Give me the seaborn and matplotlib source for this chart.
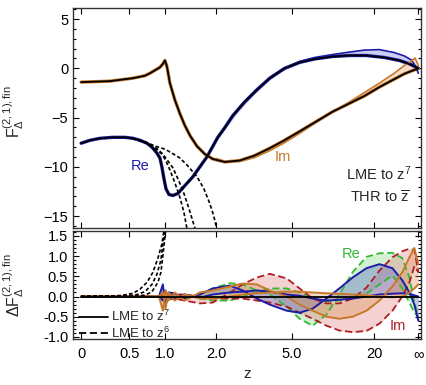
import matplotlib.pyplot as plt
import matplotlib.ticker as mticker
from matplotlib.lines import Line2D
import seaborn as sns
import numpy as np

# ---- data (z values, inf = right end) ----
inf = np.inf

# top panel: LME to z^7 curves
z_im = [0, 0.28, 0.545, 0.70, 0.769, 0.841, 0.915, 0.96, 0.992, 1.024, 1.072, 1.155, 1.243,
        1.333, 1.428, 1.57, 1.738, 1.922, 2.23, 2.67, 3.18, 3.81, 4.46, 5.52, 8.8, 15.8,
        23, 39, 70, inf]
im_lme = [-1.4, -1.3, -1.0, -0.75, -0.5, -0.2, 0.1, 0.45, 0.8, 0.2, -1.5, -3.2, -4.6,
          -5.8, -6.8, -7.9, -8.7, -9.2, -9.5, -9.35, -8.85, -8.1, -7.4, -6.4, -4.4, -2.8,
          -1.9, -1.1, -0.55, 0.0]

z_re = [0, 0.082, 0.18, 0.31, 0.449, 0.545, 0.634, 0.728, 0.798, 0.87, 0.915, 0.945, 0.977,
        1.008, 1.056, 1.122, 1.207, 1.333, 1.487, 1.63, 1.783, 2.045, 2.23, 2.452, 2.828,
        3.26, 3.81, 4.57, 5.52, 6.75, 8.79, 11.7, 16.5, 26.8, 50, 110, inf]
re_lme = [-7.6, -7.3, -7.1, -7.0, -7.0, -7.1, -7.3, -7.6, -8.0, -8.6, -9.1, -10.0, -11.2,
          -12.2, -12.8, -12.9, -12.7, -11.9, -11.0, -10.0, -9.0, -7.0, -6.0, -4.8, -3.4,
          -2.2, -1.0, 0.0, 0.6, 0.95, 1.2, 1.3, 1.3, 1.1, 0.8, 0.45, 0.0]

# top panel: THR bands
z_thr = [2.0, 2.23, 2.67, 3.18, 3.81, 4.46, 5.52, 6.75, 8.8, 11.7, 15.8, 23, 39, 70, 140, 300, inf]
re_thr_a = [-7.2, -6.0, -3.9, -2.3, -0.95, -0.05, 0.7, 1.1, 1.4, 1.65, 1.85, 1.9, 1.6, 1.25, 0.85, 0.3, -0.5]
re_thr_b = [-7.4, -6.2, -4.2, -2.6, -1.15, -0.2, 0.5, 0.9, 1.15, 1.25, 1.25, 1.15, 0.9, 0.65, 0.4, 0.15, -0.1]
im_thr_a = [-9.15, -9.45, -9.45, -9.05, -8.35, -7.65, -6.6, -5.6, -4.45, -3.4, -2.45, -1.5, -0.5, 0.3, 0.7, 1.05, 0.3]
im_thr_b = [-9.1, -9.5, -9.35, -8.85, -8.1, -7.4, -6.4, -5.5, -4.4, -3.5, -2.8, -1.95, -1.15, -0.6, -0.35, -0.15, 0.0]

# top panel: lower-order LME (diverging, dashed)
z_d1 = [0.545, 0.728, 0.798, 0.87, 0.945, 1.008, 1.072, 1.155, 1.243, 1.315, 1.37, 1.409]
d1 = [-7.1, -7.6, -7.9, -8.3, -8.7, -9.4, -10.3, -11.6, -13.1, -14.6, -16.2, -17.2]
z_d2 = [0.545, 0.728, 0.798, 0.87, 0.96, 1.04, 1.122, 1.207, 1.297, 1.409, 1.527, 1.57]
d2 = [-7.1, -7.6, -7.85, -8.15, -8.7, -9.4, -10.1, -11.2, -12.4, -14.2, -16.2, -17.0]
z_d3 = [0.545, 0.728, 0.87, 0.992, 1.105, 1.243, 1.389, 1.57, 1.716, 1.85, 1.946, 2.02, 2.08]
d3 = [-7.1, -7.55, -7.95, -8.2, -8.6, -9.1, -9.9, -11.0, -12.2, -13.7, -15.0, -16.3, -17.2]

# bottom panel: lower-order LME deviation (dashed)
z_bd1 = [0, 0.391, 0.545, 0.634, 0.728, 0.812, 0.885, 0.945, 0.984]
bd1 = [0, 0.02, 0.08, 0.18, 0.35, 0.6, 0.95, 1.3, 1.7]
z_bd2 = [0, 0.57, 0.70, 0.798, 0.87, 0.93, 0.96, 1.0]
bd2 = [0, 0.03, 0.12, 0.3, 0.55, 0.9, 1.3, 1.7]
z_bd3 = [0, 0.70, 0.798, 0.885, 0.93, 0.96, 1.008]
bd3 = [0, 0.03, 0.12, 0.35, 0.6, 1.0, 1.7]

# bottom panel: THR deviation bands
z_b = [0, 0.9, 0.96, 1.0, 1.05, 1.15, 1.33, 1.63, 1.92, 2.37, 2.76, 3.26, 3.81, 4.68,
       5.52, 6.57, 8.0, 9.8, 12.4, 16.5, 23, 36, 60, 110, 250, inf]
re_b1 = [0, 0, 0.3, -0.25, 0.1, 0.08, -0.05, 0.05, 0.2, 0.27, 0.15, -0.05, -0.2, -0.35,
         -0.4, -0.3, -0.05, 0.2, 0.47, 0.7, 0.8, 0.7, 0.4, 0.1, -0.2, -0.6]
re_b2 = [0, 0, -0.1, 0.15, -0.05, -0.05, 0.05, -0.03, 0.05, 0.1, 0.12, 0.15, 0.12, 0.05,
         0.02, -0.05, -0.1, -0.08, -0.05, 0.0, 0.05, 0.07, 0.08, 0.07, 0.03, 0.0]
im_b1 = [0, 0, -0.35, 0.15, -0.1, 0.1, -0.1, 0.1, 0.15, 0.25, 0.32, 0.3, 0.15, 0.0,
         -0.2, -0.35, -0.5, -0.55, -0.5, -0.35, -0.1, 0.25, 0.6, 0.97, 1.2, 0.8]
im_b2 = [0, 0, 0.1, -0.3, 0.1, -0.1, 0.05, -0.05, -0.05, 0.0, 0.05, 0.08, 0.1, 0.12,
         0.12, 0.1, 0.08, 0.07, 0.05, 0.03, 0.0, -0.02, 0.0, 0.1, 0.2, 0.3]
re_thr6_a = [0, 0, 0.02, 0.0, 0.05, 0.05, -0.05, 0.05, 0.2, 0.33, 0.3, 0.15, 0.05, -0.25,
             -0.55, -0.72, -0.45, 0.05, 0.6, 0.98, 1.07, 1.08, 0.95, 0.47, -0.15, -0.5]
re_thr6_b = [0, 0, 0.0, 0.0, -0.05, -0.05, 0.05, -0.05, -0.1, -0.1, 0.0, 0.1, 0.2, 0.2,
             0.1, -0.05, -0.12, -0.1, -0.05, 0.07, 0.3, 0.52, 0.2, -0.15, -0.4, -0.5]
im_thr6_a = [0, 0, 0.02, 0.0, -0.05, -0.05, -0.1, -0.17, -0.15, 0.1, 0.3, 0.47, 0.56, 0.45,
             0.2, -0.05, -0.17, -0.17, -0.05, 0.22, 0.64, 0.97, 1.12, 1.18, 1.15, 0.6]
im_thr6_b = [0, 0, 0.0, 0.0, 0.05, 0.05, 0.05, 0.0, -0.05, -0.05, -0.05, -0.1, -0.15, -0.25,
             -0.4, -0.55, -0.72, -0.84, -0.88, -0.85, -0.67, -0.35, 0.0, 0.35, 0.75, 0.6]

z_ticks = [0, 0.5, 1, 2, 5, 20, inf]
z_ticklabels = ['0', '0.5', '1.0', '2.0', '5.0', '20', '\u221e']


def to_u(z):
    # compactified axis: u = z / (z + 3), z = inf -> 1
    z = np.asarray(z, dtype=float)
    with np.errstate(invalid='ignore'):
        u = z / (z + 3.0)
    return np.where(np.isinf(z), 1.0, u)


def line(ax, z, y, **kw):
    sns.lineplot(x=to_u(z), y=y, ax=ax, sort=False, estimator=None, legend=False, **kw)


def band(ax, z, a, b, color, alpha):
    ax.fill_between(to_u(z), a, b, color=color, alpha=alpha, lw=0)


sns.set_style('ticks')
plt.rcParams['font.family'] = ['Liberation Sans', 'DejaVu Sans']
plt.rcParams['mathtext.fontset'] = 'custom'
plt.rcParams['mathtext.rm'] = 'Liberation Sans'
plt.rcParams['mathtext.it'] = 'Liberation Sans'
plt.rcParams['mathtext.bf'] = 'Liberation Sans:bold'
plt.rcParams['font.size'] = 10

blue = '#1c1ca8'
orange = '#c8782a'
green = '#33b833'
red = '#b01c24'

fig = plt.figure(figsize=(4.26, 3.85), dpi=100)
ax1 = fig.add_axes([0.1714, 0.4078, 0.817, 0.5714])
ax2 = fig.add_axes([0.1714, 0.1195, 0.817, 0.2805])

# ---- top panel ----
band(ax1, z_thr, re_thr_a, re_thr_b, '#8c94e0', 0.45)
band(ax1, z_thr, im_thr_a, im_thr_b, '#f0b888', 0.45)
line(ax1, z_re, re_lme, color=blue, lw=2.4)
line(ax1, z_im, im_lme, color=orange, lw=2.4)
line(ax1, z_thr, re_thr_a, color=blue, lw=1.2)
line(ax1, z_thr, im_thr_a, color=orange, lw=1.2)
line(ax1, z_re, re_lme, color='k', lw=1.3)
line(ax1, z_im, im_lme, color='k', lw=1.3)
for zz, dd in [(z_d1, d1), (z_d2, d2), (z_d3, d3)]:
    line(ax1, zz, dd, color='k', lw=1.2, linestyle=(0, (2.2, 1.4)))

ax1.text(0.175, -9.95, 'Re', color=blue, ha='center', va='center', fontsize=10.5)
ax1.text(0.598, -9.0, 'Im', color=orange, ha='center', va='center', fontsize=10.5)
ax1.text(0.979, -10.65, 'LME to $z^7$', ha='right', va='center', fontsize=10.5)
ax1.text(0.975, -13.1, r'THR to $\overline{z}$', ha='right', va='center', fontsize=10.5)

ax1.set_ylim(-16.2, 6.12)
ax1.yaxis.set_major_locator(mticker.MultipleLocator(5))
ax1.yaxis.set_minor_locator(mticker.MultipleLocator(1))
ax1.set_ylabel(r'$\mathrm{F}_{\Delta}^{(2,1),\mathrm{fin}}$', fontsize=11.5)
ax1.yaxis.set_label_coords(-0.135, 0.53)

# ---- bottom panel ----
band(ax2, z_b, re_thr6_a, re_thr6_b, '#7fd67f', 0.35)
band(ax2, z_b, im_thr6_a, im_thr6_b, '#e07f7f', 0.35)
band(ax2, z_b, re_b1, re_b2, '#5060c0', 0.35)
band(ax2, z_b, im_b1, im_b2, '#d89050', 0.35)
line(ax2, z_b, re_thr6_a, color=green, lw=1.3, linestyle=(0, (4, 2)))
line(ax2, z_b, re_thr6_b, color=green, lw=1.3, linestyle=(0, (4, 2)))
line(ax2, z_b, im_thr6_a, color=red, lw=1.3, linestyle=(0, (4, 2)))
line(ax2, z_b, im_thr6_b, color=red, lw=1.3, linestyle=(0, (4, 2)))
line(ax2, z_b, re_b1, color=blue, lw=1.4)
line(ax2, z_b, re_b2, color=blue, lw=1.4)
line(ax2, z_b, im_b1, color=orange, lw=1.4)
line(ax2, z_b, im_b2, color=orange, lw=1.4)
line(ax2, [0, inf], [0, 0], color='k', lw=1.3)
for zz, dd in [(z_bd1, bd1), (z_bd2, bd2), (z_bd3, bd3)]:
    line(ax2, zz, dd, color='k', lw=1.2, linestyle=(0, (2.2, 1.4)))

ax2.text(0.802, 1.05, 'Re', color=green, ha='center', va='center', fontsize=10.5)
ax2.text(0.938, -0.74, 'Im', color=red, ha='center', va='center', fontsize=10.5)

handles = [Line2D([], [], color='k', lw=1.3),
           Line2D([], [], color='k', lw=1.3, linestyle=(0, (4, 2)))]
ax2.legend(handles, ['LME to $z^7$', 'LME to $z^6$'], loc='lower left', frameon=False,
           fontsize=9.5, handlelength=2.2, handletextpad=0.3, labelspacing=0.1,
           borderaxespad=0.0, borderpad=0.1, bbox_to_anchor=(0.012, -0.03))

ax2.set_ylim(-1.05, 1.62)
ax2.yaxis.set_major_locator(mticker.MultipleLocator(0.5))
ax2.yaxis.set_minor_locator(mticker.MultipleLocator(0.1))
ax2.yaxis.set_major_formatter(mticker.FormatStrFormatter('%.1f'))
ax2.set_ylabel(r'$\Delta\mathrm{F}_{\Delta}^{(2,1),\mathrm{fin}}$', fontsize=11.5)
ax2.yaxis.set_label_coords(-0.135, 0.5)
ax2.set_xlabel('z', fontsize=11)

for ax in (ax1, ax2):
    ax.set_xlim(-0.024, 1.008)
    ax.set_xticks(to_u(z_ticks))
    ax.tick_params(which='both', direction='in', top=True, right=True, width=0.8,
                   labelsize=10.5, colors='k')
    ax.tick_params(which='major', length=4)
    ax.tick_params(which='minor', length=2)
    for s in ax.spines.values():
        s.set_linewidth(1.0)
        s.set_color('#333333')
ax1.set_xticklabels([])
ax2.set_xticklabels(z_ticklabels)
ax2.tick_params(axis='x', pad=6)

fig.savefig('out.png', dpi=100)
